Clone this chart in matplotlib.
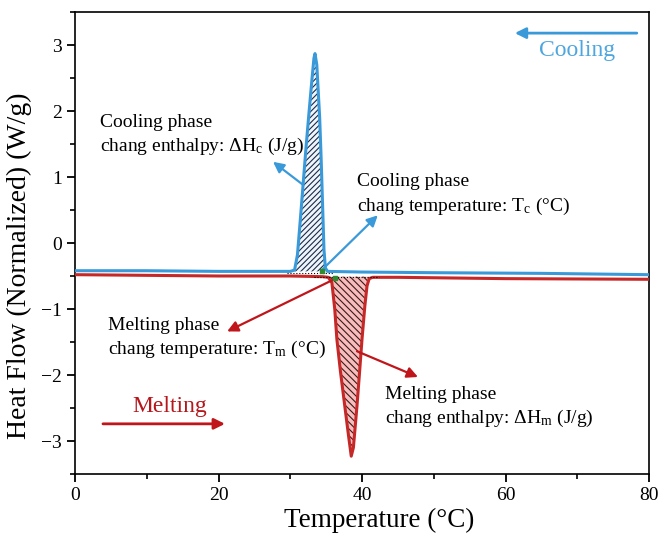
import numpy as np
import matplotlib.pyplot as plt
from matplotlib.ticker import MultipleLocator

# DSC data
cool_T = np.array([0, 10, 20, 28, 30.0, 30.6, 31.0, 31.4, 31.8, 32.2, 32.6, 33.0, 33.3, 33.45,
                   33.7, 33.9, 34.1, 34.3, 34.5, 34.7, 34.9, 35.2, 40, 50, 65, 80])
cool_HF = np.array([-0.42, -0.42, -0.43, -0.43, -0.43, -0.41, -0.18, 0.35, 0.9, 1.45, 1.96, 2.45,
                    2.8, 2.87, 2.7, 2.3, 1.9, 1.3, 0.6, -0.1, -0.38, -0.43, -0.44, -0.45, -0.46, -0.48])

melt_T = np.array([0, 10, 20, 30, 34.5, 35.3, 35.8, 36.0, 36.2, 36.5, 37.0, 37.6, 38.1, 38.5,
                   38.8, 39.3, 39.7, 40.0, 40.4, 40.7, 41.0, 41.5, 45, 60, 80])
melt_HF = np.array([-0.48, -0.49, -0.5, -0.5, -0.51, -0.52, -0.6, -0.8, -1.0, -1.46, -1.95, -2.47,
                    -2.9, -3.23, -3.1, -2.47, -1.9, -1.46, -0.95, -0.65, -0.54, -0.52, -0.52, -0.54, -0.55])

# peak integration limits and baselines
cool_lim = (30.6, 35.0)
cool_base = -0.43
melt_lim = (35.3, 41.3)
melt_base = -0.51

# onset points (green markers)
onset_T = [34.4, 36.3]
onset_HF = [-0.42, -0.53]

blue = '#3a9ad9'
red = '#c62828'

plt.rcParams['font.family'] = ['Liberation Serif', 'DejaVu Serif']
plt.rcParams['mathtext.fontset'] = 'custom'
plt.rcParams['mathtext.rm'] = 'Liberation Serif'
plt.rcParams['mathtext.it'] = 'Liberation Serif:italic'
plt.rcParams['hatch.linewidth'] = 0.8

fig = plt.figure(figsize=(6.61, 5.36), dpi=100)
ax = fig.add_axes([75 / 661, 1 - 474 / 536, 574 / 661, 462 / 536])

# fills with hatch
m = (cool_T >= cool_lim[0]) & (cool_T <= cool_lim[1])
ax.fill_between(cool_T, cool_HF, cool_base, where=m, facecolor='#eef6fc',
                edgecolor='#1c2a48', hatch='//////', linewidth=0, zorder=2)
m = (melt_T >= melt_lim[0]) & (melt_T <= melt_lim[1])
ax.fill_between(melt_T, melt_HF, melt_base, where=m, facecolor='#f8bcbc',
                edgecolor='#3a1a1a', hatch='\\\\\\\\\\', linewidth=0, zorder=2)

# curves
ax.plot(cool_T, cool_HF, color=blue, lw=2.2, zorder=3)
ax.plot(melt_T, melt_HF, color=red, lw=2.2, zorder=3)

# dotted baselines under the peaks
ax.plot([cool_lim[0] - 1, cool_lim[1] + 1], [cool_base - 0.02] * 2, ':', color='k', lw=0.8, zorder=4)
ax.plot([melt_lim[0] - 2, melt_lim[1] + 1], [melt_base] * 2, ':', color='k', lw=0.8, zorder=4)
ax.scatter(onset_T, onset_HF, s=12, marker='s', color='#2e8b2e', zorder=5)

# annotation arrows
def arrow(tail, head, c):
    ax.annotate('', xy=head, xytext=tail,
                arrowprops=dict(arrowstyle='-|>', color=c, lw=1.6, mutation_scale=16,
                                shrinkA=0, shrinkB=0))

arrow((31.8, 0.88), (27.6, 1.23), blue)
arrow((34.4, -0.41), (42.2, 0.42), blue)
arrow((36.3, -0.54), (21.2, -1.34), '#c0161b')
arrow((39.3, -1.64), (47.8, -2.03), '#c0161b')

ts = 14
ax.text(3.5, 1.63, 'Cooling phase\nchang enthalpy: ΔH$_\\mathrm{c}$ (J/g)', fontsize=ts,
        va='center', linespacing=1.35)
ax.text(39.3, 0.73, 'Cooling phase\nchang temperature: T$_\\mathrm{c}$ (°C)', fontsize=ts,
        va='center', linespacing=1.35)
ax.text(4.6, -1.45, 'Melting phase\nchang temperature: T$_\\mathrm{m}$ (°C)', fontsize=ts,
        va='center', linespacing=1.35)
ax.text(43.2, -2.49, 'Melting phase\nchang enthalpy: ΔH$_\\mathrm{m}$ (J/g)', fontsize=ts,
        va='center', linespacing=1.35)

# direction labels
ax.annotate('', xy=(61.3, 3.18), xytext=(78.3, 3.18),
            arrowprops=dict(arrowstyle='-|>', color=blue, lw=2, mutation_scale=16,
                            shrinkA=0, shrinkB=0))
ax.text(70, 2.92, 'Cooling', color='#4da6df', fontsize=17, ha='center', va='center')
ax.annotate('', xy=(20.9, -2.74), xytext=(3.9, -2.74),
            arrowprops=dict(arrowstyle='-|>', color='#c0161b', lw=2, mutation_scale=16,
                            shrinkA=0, shrinkB=0))
ax.text(13.2, -2.47, 'Melting', color='#b5171d', fontsize=17, ha='center', va='center')

ax.set_xlim(0, 80)
ax.set_ylim(-3.5, 3.5)
ax.xaxis.set_major_locator(MultipleLocator(20))
ax.xaxis.set_minor_locator(MultipleLocator(10))
ax.yaxis.set_major_locator(MultipleLocator(1))
ax.yaxis.set_minor_locator(MultipleLocator(0.5))
ax.tick_params(which='major', direction='out', length=6, width=1.3, labelsize=14)
ax.tick_params(which='minor', direction='out', length=3.5, width=1.2)
for s in ax.spines.values():
    s.set_linewidth(1.2)

ax.set_xlabel('Temperature (°C)', fontsize=19.5)
ax.set_ylabel('Heat Flow (Normalized) (W/g)', fontsize=20)
ax.xaxis.set_label_coords(0.53, -0.074)
ax.yaxis.set_label_coords(-0.075, 0.45)

fig.savefig('out.png', dpi=100)
